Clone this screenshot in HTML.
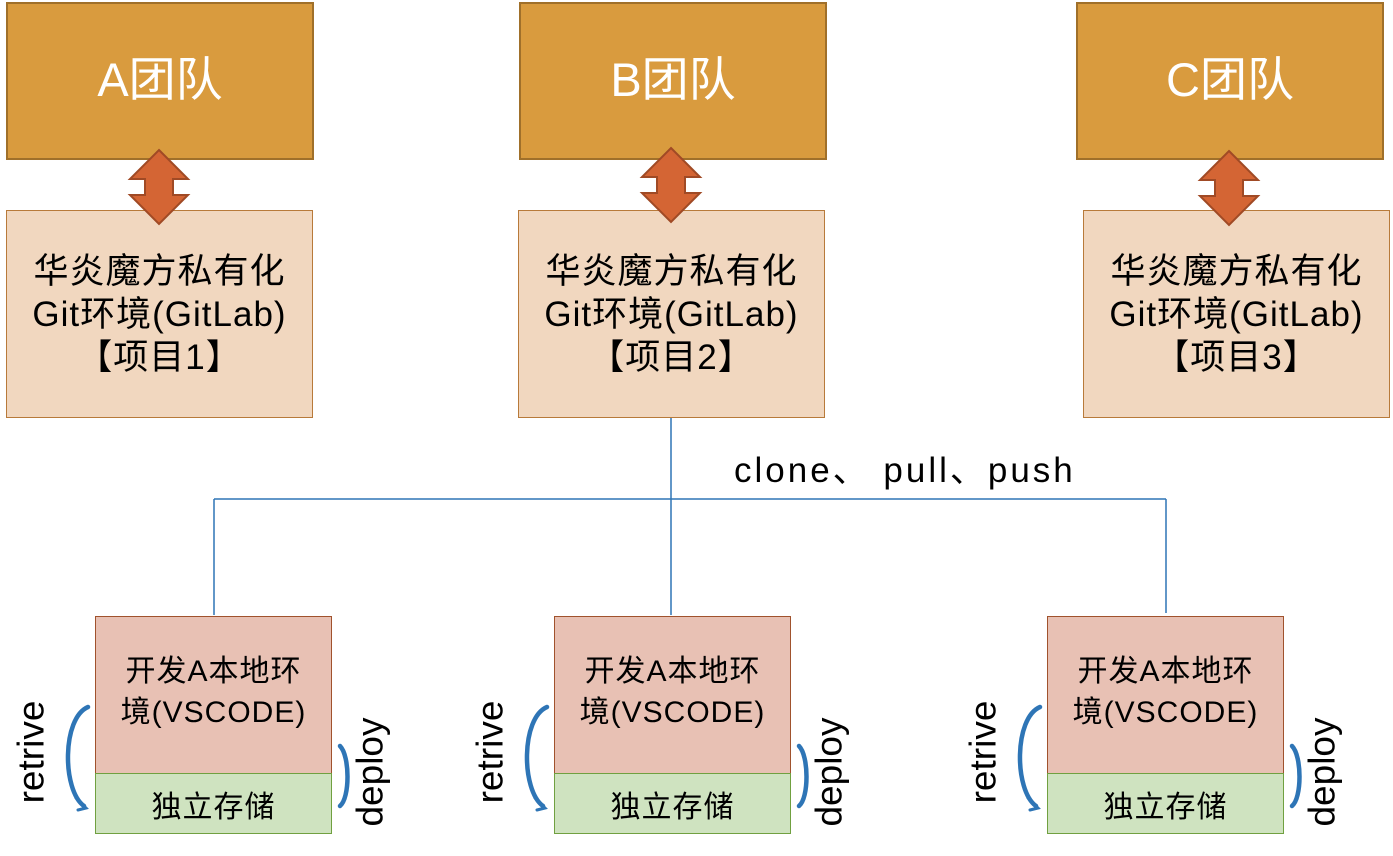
<!DOCTYPE html>
<html><head><meta charset="utf-8"><style>
body{margin:0;width:1393px;height:856px;background:#fff;position:relative;overflow:hidden;font-family:"Liberation Sans","Noto Sans CJK SC",sans-serif}
.b{position:absolute;box-sizing:border-box;display:flex;align-items:center;justify-content:center;text-align:center;white-space:nowrap}
.t{background:#d99b3e;border:2px solid #a0702a;color:#fff;font-size:47px;padding-bottom:12px}
.p{background:#f1d7bf;border:1.5px solid #b87a3a;color:#000;font-size:35px;line-height:43px;letter-spacing:1px}
.d{background:#e8c1b4;border:1.5px solid #a0522d;font-size:30px;line-height:41px;padding-bottom:6px;letter-spacing:1px}
.g{background:#cfe3c0;border:1.5px solid #70a040;font-size:30px;letter-spacing:1px}
.r{position:absolute;font-size:37px;transform:rotate(-90deg);transform-origin:center;white-space:nowrap}
</style></head><body>
<div class="b t" style="left:6px;top:2px;width:308px;height:158px">A团队</div>
<div class="b t" style="left:519px;top:2px;width:308px;height:158px">B团队</div>
<div class="b t" style="left:1076px;top:2px;width:308px;height:158px">C团队</div>
<div class="b p" style="left:6px;top:210px;width:307px;height:208px">华炎魔方私有化<br>Git环境(GitLab)<br>【项目1】</div>
<div class="b p" style="left:518px;top:210px;width:307px;height:208px">华炎魔方私有化<br>Git环境(GitLab)<br>【项目2】</div>
<div class="b p" style="left:1083px;top:210px;width:307px;height:208px">华炎魔方私有化<br>Git环境(GitLab)<br>【项目3】</div>
<div style="position:absolute;left:734px;top:442px;font-size:35px;letter-spacing:3px;white-space:nowrap">clone、 pull、push</div>
<div class="b d" style="left:95px;top:616px;width:237px;height:158px">开发A本地环<br>境(VSCODE)</div>
<div class="b g" style="left:95px;top:773px;width:237px;height:61px">独立存储</div>
<div class="b d" style="left:554px;top:616px;width:237px;height:158px">开发A本地环<br>境(VSCODE)</div>
<div class="b g" style="left:554px;top:773px;width:237px;height:61px">独立存储</div>
<div class="b d" style="left:1047px;top:616px;width:237px;height:158px">开发A本地环<br>境(VSCODE)</div>
<div class="b g" style="left:1047px;top:773px;width:237px;height:61px">独立存储</div>
<div class="r" style="left:-20px;top:731px">retrive</div>
<div class="r" style="left:316px;top:751px">deploy</div>
<div class="r" style="left:439px;top:731px">retrive</div>
<div class="r" style="left:775px;top:751px">deploy</div>
<div class="r" style="left:932px;top:731px">retrive</div>
<div class="r" style="left:1268px;top:751px">deploy</div>
<svg width="1393" height="856" style="position:absolute;left:0;top:0">
<g stroke="#2e75b6" stroke-width="1.5" fill="none">
<path d="M671 418V615M214 499H1166M214 499V615M1166 499V613"/>
</g>
<g fill="#d46534" stroke="#a04a25" stroke-width="2">
<path id="ar" d="M159 150L188 179H173V195H188L159 224L130 195H145V179H130Z"/>
<use href="#ar" x="512" y="-2"/>
<use href="#ar" x="1070" y="1"/>
</g>
<g id="cv" stroke="#2e75b6" stroke-width="4.5" fill="none" stroke-linecap="round">
<path d="M88 707C62 718 62 790 84 806"/>
<path d="M76 798L86 808L78 810" stroke-width="3"/>
<path d="M340 746C350 756 350 798 340 806"/>
</g>
<use href="#cv" x="459"/>
<use href="#cv" x="952"/>
</svg>
</body></html>
